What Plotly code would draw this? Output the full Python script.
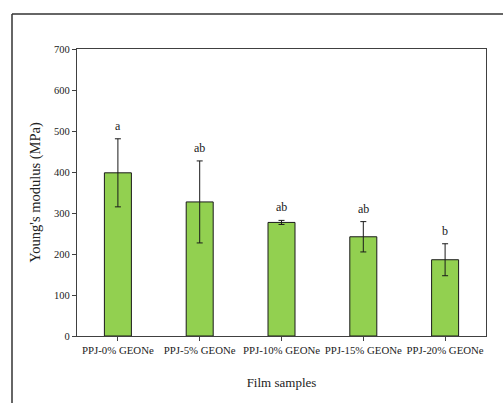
import plotly.graph_objects as go

categories = ["PPJ-0% GEONe", "PPJ-5% GEONe", "PPJ-10% GEONe", "PPJ-15% GEONe", "PPJ-20% GEONe"]
modulus = [398, 327, 277, 242, 186]
errors = [83, 100, 5, 37, 39]
letters = ["a", "ab", "ab", "ab", "b"]

W, H = 503, 403
L, R, T, B = 77, 17, 49, 67
pw, ph = W - L - R, H - T - B

fig = go.Figure()
fig.add_trace(go.Bar(
    x=categories, y=modulus,
    marker=dict(color="#92d050", line=dict(color="#1a1a1a", width=1)),
    error_y=dict(type="data", array=errors, visible=True, color="#1a1a1a", thickness=1, width=3),
    width=0.33,
))

for c, v, e, t in zip(categories, modulus, errors, letters):
    fig.add_annotation(x=c, y=v + e, text=t, showarrow=False, yanchor="bottom", yshift=4,
                       font=dict(family="Liberation Serif", size=12, color="#1a1a1a"))

axis_font = dict(family="Liberation Serif", size=10.5, color="#222222")
fig.update_layout(
    width=W, height=H,
    margin=dict(l=L, r=R, t=T, b=B),
    paper_bgcolor="white", plot_bgcolor="white",
    showlegend=False,
    xaxis=dict(showline=True, linecolor="#404040", linewidth=1.3, mirror=True,
               ticks="outside", ticklen=4, tickcolor="#404040", tickfont=dict(family="Liberation Serif", size=10.8, color="#222222"),
               title=dict(text="Film samples", font=dict(family="Liberation Serif", size=13, color="#222222"), standoff=22)),
    yaxis=dict(range=[0, 700], dtick=100, showline=True, linecolor="#404040", linewidth=1.3, mirror=True,
               ticks="outside", ticklen=4, tickcolor="#404040", tickfont=axis_font, showgrid=False,
               zeroline=False,
               title=dict(text="Young's modulus (MPa)", font=dict(family="Liberation Serif", size=14.5, color="#222222"), standoff=9)),
)

# outer frame (cropped at right and bottom)
x0 = (12 - L) / pw
y1 = 1 + (T - 14) / ph
fig.add_shape(type="line", xref="paper", yref="paper", x0=x0, x1=x0, y0=y1, y1=-0.4,
              line=dict(color="#333333", width=1.5))
fig.add_shape(type="line", xref="paper", yref="paper", x0=x0, x1=1.2, y0=y1, y1=y1,
              line=dict(color="#333333", width=1.5))

fig.write_html("out.html")
